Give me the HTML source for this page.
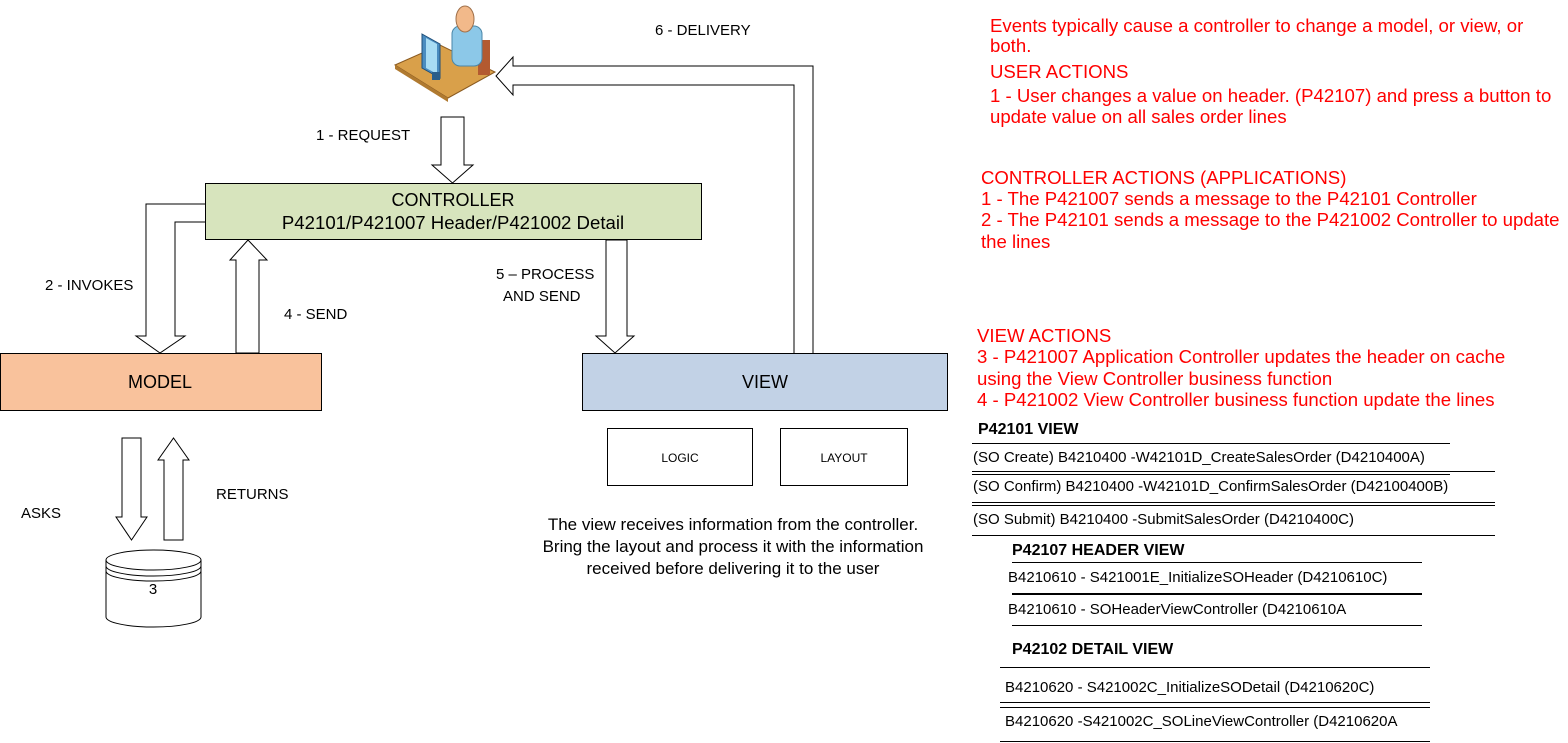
<!DOCTYPE html>
<html><head><meta charset="utf-8"><style>
html,body{margin:0;padding:0;background:#fff;}
svg{display:block;font-family:"Liberation Sans",Arial,sans-serif;}
.r{fill:#ff0000;font-size:18.6px;}
.t{font-size:15px;fill:#000;}
.b{font-size:16px;font-weight:bold;fill:#000;}
.ln{stroke:#000;stroke-width:1;}
</style></head><body>
<svg width="1568" height="743" viewBox="0 0 1568 743" xmlns="http://www.w3.org/2000/svg">
<rect x="205.5" y="183.5" width="496" height="56" fill="#d7e4bd" stroke="#000"/>
<text x="453" y="206" text-anchor="middle" style="font-size:18px">CONTROLLER</text>
<text x="453" y="229" text-anchor="middle" style="font-size:18.6px">P42101/P421007 Header/P421002 Detail</text>
<rect x="0.5" y="353.5" width="321" height="57" fill="#f9c29c" stroke="#000"/>
<text x="160" y="388" text-anchor="middle" style="font-size:18px">MODEL</text>
<rect x="582.5" y="353.5" width="365" height="57" fill="#c2d2e6" stroke="#000"/>
<text x="765" y="388" text-anchor="middle" style="font-size:18px">VIEW</text>
<rect x="607.5" y="428.5" width="145" height="57" fill="#fff" stroke="#000"/>
<text x="680" y="462" text-anchor="middle" style="font-size:12px">LOGIC</text>
<rect x="780.5" y="428.5" width="127" height="57" fill="#fff" stroke="#000"/>
<text x="844" y="462" text-anchor="middle" style="font-size:12px">LAYOUT</text>

<g fill="#fff" stroke="#000" stroke-width="1">
<polygon points="441,117 464,117 464,165 473,165 452.5,183 432,165 441,165"/>
<polyline points="205,204 146,204 146,336 136,336 160,353 185,336 175,336 175,222 205,222" />
<polygon points="236,353 236,260 230,260 248,240 267,260 259,260 259,353"/>
<polygon points="606,240 627,240 627,336 634,336 615,353 596,336 606,336"/>
<polyline points="813,353 813,66 513,66 513,57 496,76 513,95 513,85 794,85 794,353"/>
<polygon points="122,438 141,438 141,517 147,517 131.5,540 116,517 122,517"/>
<polygon points="164,540 164,460 158,460 173.5,438 189,460 183,460 183,540"/>
<path d="M106,560 L106,617 A47.5,10 0 0 0 201,617 L201,560"/>
<ellipse cx="153.5" cy="560" rx="47.5" ry="10"/>
<path d="M106,566 A47.5,10 0 0 0 201,566" fill="none"/>
<path d="M106,571 A47.5,10 0 0 0 201,571" fill="none"/>
</g>
<text x="153" y="594" text-anchor="middle" class="t">3</text>

<polygon points="395,65 440,45 495,72 448,98" fill="#d9a04a" stroke="#8a5a20"/>
<polygon points="395,65 448,98 448,102 395,69" fill="#b07a30"/>
<rect x="478" y="40" width="12" height="35" fill="#b35a30"/>
<rect x="452" y="26" width="30" height="40" rx="8" fill="#8cc8e8" stroke="#4a86a8"/>
<ellipse cx="465" cy="19" rx="9" ry="13" fill="#f2b98a" stroke="#a0704a"/>
<polygon points="422,34 440,44 440,78 422,68" fill="#4a8cc0" stroke="#1f4e78"/>
<polygon points="426,38 437,44 437,74 426,68" fill="#a8dcf4"/>
<rect x="432" y="72" width="8" height="8" fill="#2a5e8a"/>

<text x="655" y="35" class="t">6 - DELIVERY</text>
<text x="316" y="140" class="t">1 - REQUEST</text>
<text x="45" y="290" class="t">2 - INVOKES</text>
<text x="284" y="319" class="t">4 - SEND</text>
<text x="496" y="279" class="t">5 – PROCESS</text>
<text x="503" y="301" class="t">AND SEND</text>
<text x="21" y="518" class="t">ASKS</text>
<text x="216" y="499" class="t">RETURNS</text>
<text x="733" y="530" text-anchor="middle" style="font-size:17px">The view receives information from the controller.</text>
<text x="733" y="552" text-anchor="middle" style="font-size:17px">Bring the layout and process it with the information</text>
<text x="733" y="574" text-anchor="middle" style="font-size:17px">received before delivering it to the user</text>

<text x="990" y="32" class="r">Events typically cause a controller to change a model, or view, or</text>
<text x="990" y="52" class="r">both.</text>
<text x="990" y="78" class="r">USER ACTIONS</text>
<text x="990" y="102" class="r">1 - User changes a value on header. (P42107) and press a button to</text>
<text x="990" y="123" class="r">update value on all sales order lines</text>
<text x="981" y="184" class="r">CONTROLLER ACTIONS (APPLICATIONS)</text>
<text x="981" y="205" class="r">1 - The P421007  sends a message to the P42101 Controller</text>
<text x="981" y="226" class="r">2 - The P42101 sends a message to the P421002 Controller to update</text>
<text x="981" y="248" class="r">the lines</text>
<text x="977" y="342" class="r">VIEW ACTIONS</text>
<text x="977" y="363" class="r">3 - P421007 Application Controller updates the header on cache</text>
<text x="977" y="385" class="r">using the View Controller business function</text>
<text x="977" y="406" class="r">4 - P421002 View Controller business function update the lines</text>

<text x="978" y="434" class="b">P42101 VIEW</text>
<line x1="972" y1="443.5" x2="1450" y2="443.5" class="ln"/>
<text x="973" y="462" class="t">(SO Create) B4210400 -W42101D_CreateSalesOrder (D4210400A)</text>
<line x1="972" y1="471.5" x2="1495" y2="471.5" class="ln"/>
<line x1="972" y1="474.5" x2="1450" y2="474.5" class="ln"/>
<text x="973" y="491" class="t">(SO Confirm) B4210400 -W42101D_ConfirmSalesOrder (D42100400B)</text>
<line x1="972" y1="502.5" x2="1495" y2="502.5" class="ln"/>
<line x1="972" y1="505.5" x2="1495" y2="505.5" class="ln"/>
<text x="973" y="524" class="t">(SO Submit) B4210400 -SubmitSalesOrder (D4210400C)</text>
<line x1="972" y1="535.5" x2="1495" y2="535.5" class="ln"/>
<text x="1012" y="555" class="b">P42107 HEADER VIEW</text>
<line x1="1012" y1="562.5" x2="1422" y2="562.5" class="ln"/>
<text x="1008" y="582" class="t">B4210610 - S421001E_InitializeSOHeader  (D4210610C)</text>
<line x1="1012" y1="594" x2="1422" y2="594" stroke="#000" stroke-width="2"/>
<text x="1008" y="614" class="t">B4210610 - SOHeaderViewController (D4210610A</text>
<line x1="1012" y1="625.5" x2="1422" y2="625.5" class="ln"/>
<text x="1012" y="654" class="b">P42102 DETAIL VIEW</text>
<line x1="1000" y1="667.5" x2="1430" y2="667.5" class="ln"/>
<text x="1005" y="692" class="t">B4210620 - S421002C_InitializeSODetail (D4210620C)</text>
<line x1="1000" y1="702.5" x2="1430" y2="702.5" class="ln"/>
<line x1="1000" y1="707.5" x2="1430" y2="707.5" class="ln"/>
<text x="1005" y="726" class="t">B4210620 -S421002C_SOLineViewController (D4210620A</text>
<line x1="1000" y1="741.5" x2="1430" y2="741.5" class="ln"/>
</svg>
</body></html>
